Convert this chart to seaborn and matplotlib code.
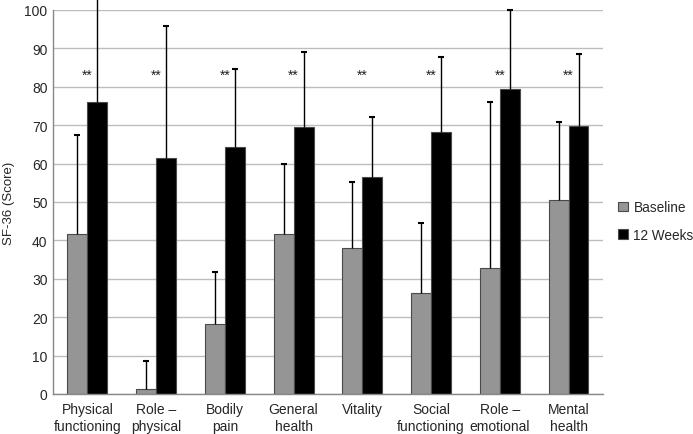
import numpy as np
import pandas as pd
import matplotlib
matplotlib.use("Agg")
import matplotlib.pyplot as plt
import seaborn as sns
from matplotlib.ticker import FixedLocator

categories = ["Physical\nfunctioning", "Role –\nphysical", "Bodily\npain", "General\nhealth",
              "Vitality", "Social\nfunctioning", "Role –\nemotional", "Mental\nhealth"]
baseline_mean = [41.6, 1.2, 18.1, 41.6, 38.0, 26.2, 32.7, 50.5]
baseline_sd = [25.9, 7.4, 13.7, 18.4, 17.2, 18.3, 43.3, 20.3]
week12_mean = [76.1, 61.5, 64.2, 69.6, 56.6, 68.3, 79.5, 69.8]
week12_sd = [27.2, 34.2, 20.4, 19.4, 15.4, 19.4, 20.5, 18.7]
groups = ["Baseline", "12 Weeks"]
sig_marks = ["**"] * 8
sig_y = 83

df = pd.DataFrame({
    "category": categories * 2,
    "group": [groups[0]] * 8 + [groups[1]] * 8,
    "score": baseline_mean + week12_mean,
})

sns.set_style("white")
plt.rcParams['font.family'] = ['Liberation Sans', 'DejaVu Sans']

fig = plt.figure(figsize=(6.93, 4.35), dpi=100)
ax = fig.add_axes([0.0765, 0.092, 0.7935, 0.883])

palette = {"Baseline": "#959595", "12 Weeks": "#000000"}
sns.barplot(data=df, x="category", y="score", hue="group", hue_order=groups,
            palette=palette, width=0.58, errorbar=None, ax=ax, zorder=2,
            edgecolor="#4a4a4a", linewidth=0.8, saturation=1)

# upper-only error bars, centred on each bar
for cont, sds in zip(ax.containers, [baseline_sd, week12_sd]):
    xs = np.array([p.get_x() + p.get_width() / 2 for p in cont])
    ys = np.array([p.get_height() for p in cont])
    tops = ys + np.array(sds)
    ax.vlines(xs, ys, tops, color="black", linewidth=1.0, zorder=3, clip_on=False)
    ax.scatter(xs, tops, marker="_", s=25, color="black", linewidths=1.5,
               zorder=3, clip_on=False)

for i, m in enumerate(sig_marks):
    ax.text(i, sig_y, m, ha="center", va="center", fontsize=10, color="#222222")

ax.set_ylim(0, 100)
ax.set_xlim(-0.5, len(categories) - 0.5)
ax.set_yticks(range(0, 101, 10))
ax.yaxis.grid(True, color="#bdbdbd", linewidth=1.0, zorder=0)
ax.set_axisbelow(True)

ax.xaxis.set_minor_locator(FixedLocator(np.arange(-0.5, len(categories), 1.0)))
ax.tick_params(axis="x", which="major", length=0, labelsize=10, pad=6)
ax.tick_params(axis="x", which="minor", length=5, color="#888888", width=1)
ax.tick_params(axis="y", length=0, labelsize=10, pad=4)

for s in ["top", "right"]:
    ax.spines[s].set_visible(False)
for s in ["left", "bottom"]:
    ax.spines[s].set_color("#888888")
    ax.spines[s].set_linewidth(1.0)

ax.set_xlabel("")
ax.set_ylabel("SF-36 (Score)", fontsize=9.5, labelpad=7)

ax.legend(title=None, frameon=False, loc="center left", bbox_to_anchor=(1.011, 0.45),
          fontsize=9.8, handlelength=0.7, handleheight=0.7, handletextpad=0.4,
          labelspacing=1.0, borderaxespad=0.5, borderpad=0.2)

fig.savefig("out.png", dpi=100)
